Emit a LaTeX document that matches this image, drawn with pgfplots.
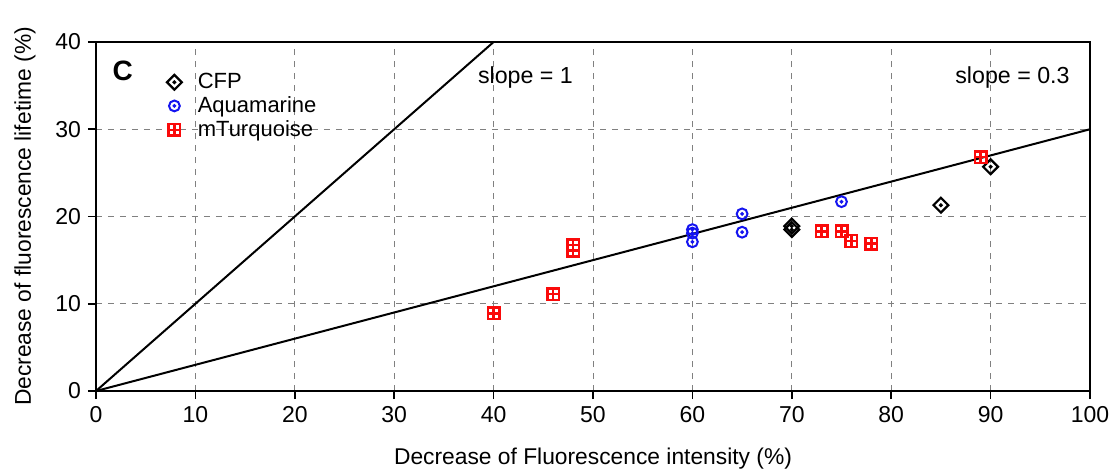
\documentclass[border=0pt]{standalone}
\usepackage{fontspec}
\setmainfont{Liberation Sans}
\usepackage{pgfplots}
\pgfplotsset{compat=1.18}
\usetikzlibrary{calc}
\pgfdeclareplotmark{diadot}{%
 \pgfpathmoveto{\pgfqpoint{0pt}{\pgfplotmarksize}}%
 \pgfpathlineto{\pgfqpoint{\pgfplotmarksize}{0pt}}%
 \pgfpathlineto{\pgfqpoint{0pt}{-\pgfplotmarksize}}%
 \pgfpathlineto{\pgfqpoint{-\pgfplotmarksize}{0pt}}%
 \pgfpathclose\pgfusepathqstroke
 \pgfpathcircle{\pgfpointorigin}{0.35pt}\pgfusepathqfillstroke}
\pgfdeclareplotmark{circdot}{%
 \pgfpathcircle{\pgfpointorigin}{\pgfplotmarksize}\pgfusepathqstroke
 \pgfpathcircle{\pgfpointorigin}{0.35pt}\pgfusepathqfillstroke}
\pgfdeclareplotmark{sqplus}{%
 \pgfpathrectangle{\pgfqpoint{-\pgfplotmarksize}{-\pgfplotmarksize}}{\pgfqpoint{2\pgfplotmarksize}{2\pgfplotmarksize}}%
 \pgfpathmoveto{\pgfqpoint{-\pgfplotmarksize}{0pt}}\pgfpathlineto{\pgfqpoint{\pgfplotmarksize}{0pt}}%
 \pgfpathmoveto{\pgfqpoint{0pt}{-\pgfplotmarksize}}\pgfpathlineto{\pgfqpoint{0pt}{\pgfplotmarksize}}%
 \pgfusepathqstroke}
\definecolor{aqblue}{RGB}{20,20,240}
\definecolor{mtred}{RGB}{250,10,10}
\begin{document}
\begin{tikzpicture}
\begin{axis}[name=ax,
 scale only axis, width=497pt, height=174.5pt,
 xmin=0, xmax=100, ymin=0, ymax=40,
 xtick={0,10,...,100}, ytick={0,10,...,40},
 axis line style={line width=1pt},
 tick style={black, line width=0.8pt},
 tick align=outside, major tick length=4pt,
 xtick pos=bottom, ytick pos=left,
 grid=major, grid style={dashed, gray, line width=0.4pt},
 /pgf/number format/assume math mode=true,
 ticklabel style={font=\fontsize{11.5}{13}\selectfont},
 label style={font=\fontsize{11.4}{13}\selectfont},
 xlabel={Decrease of Fluorescence intensity (\%)},
 ylabel={Decrease of fluorescence lifetime (\%)},
 xlabel style={yshift=-6pt},
 ylabel style={yshift=3pt},
 legend style={at={(0.065,0.935)}, anchor=north west, draw=none, fill=none,
   font=\fontsize{11}{12}\selectfont, row sep=-1.5pt, column sep=6pt},
 legend cell align=left,
]
\addplot[black, line width=1pt, forget plot] coordinates {(0,0) (40,40)};
\addplot[black, line width=1pt, forget plot] coordinates {(0,0) (100,30)};
\addplot[only marks, black, mark=diadot, mark size=3.7pt, line width=1.1pt] coordinates {
 (70,18.5) (70,18.9) (85,21.3) (90,25.7)};
\addlegendentry{CFP}
\addplot[only marks, aqblue, mark=circdot, mark size=2.7pt, line width=1pt] coordinates {
 (60,18.5) (60,18.1) (60,17.1) (65,20.3) (65,18.2) (75,21.7)};
\addlegendentry{Aquamarine}
\addplot[only marks, mtred, mark=sqplus, mark size=2.9pt, line width=1.2pt] coordinates {
 (40,8.9) (46,11.1) (48,16.7) (48,16.1) (73,18.3) (75,18.3) (76,17.2) (78,16.9) (89,26.8)};
\addlegendentry{mTurquoise}
\node[font=\bfseries\fontsize{14}{15}\selectfont, anchor=center] at (axis cs:2.7,36.7) {C};
\node[font=\fontsize{11.6}{13}\selectfont] at (axis cs:43.2,35.9) {slope = 1};
\node[font=\fontsize{11.6}{13}\selectfont] at (axis cs:92.2,35.9) {slope = 0.3};
\end{axis}
\pgfresetboundingbox
\path[use as bounding box] ($(ax.south west)+(-48pt,-41pt)$) rectangle ($(ax.north east)+(12.5pt,21pt)$);
\end{tikzpicture}
\end{document}
